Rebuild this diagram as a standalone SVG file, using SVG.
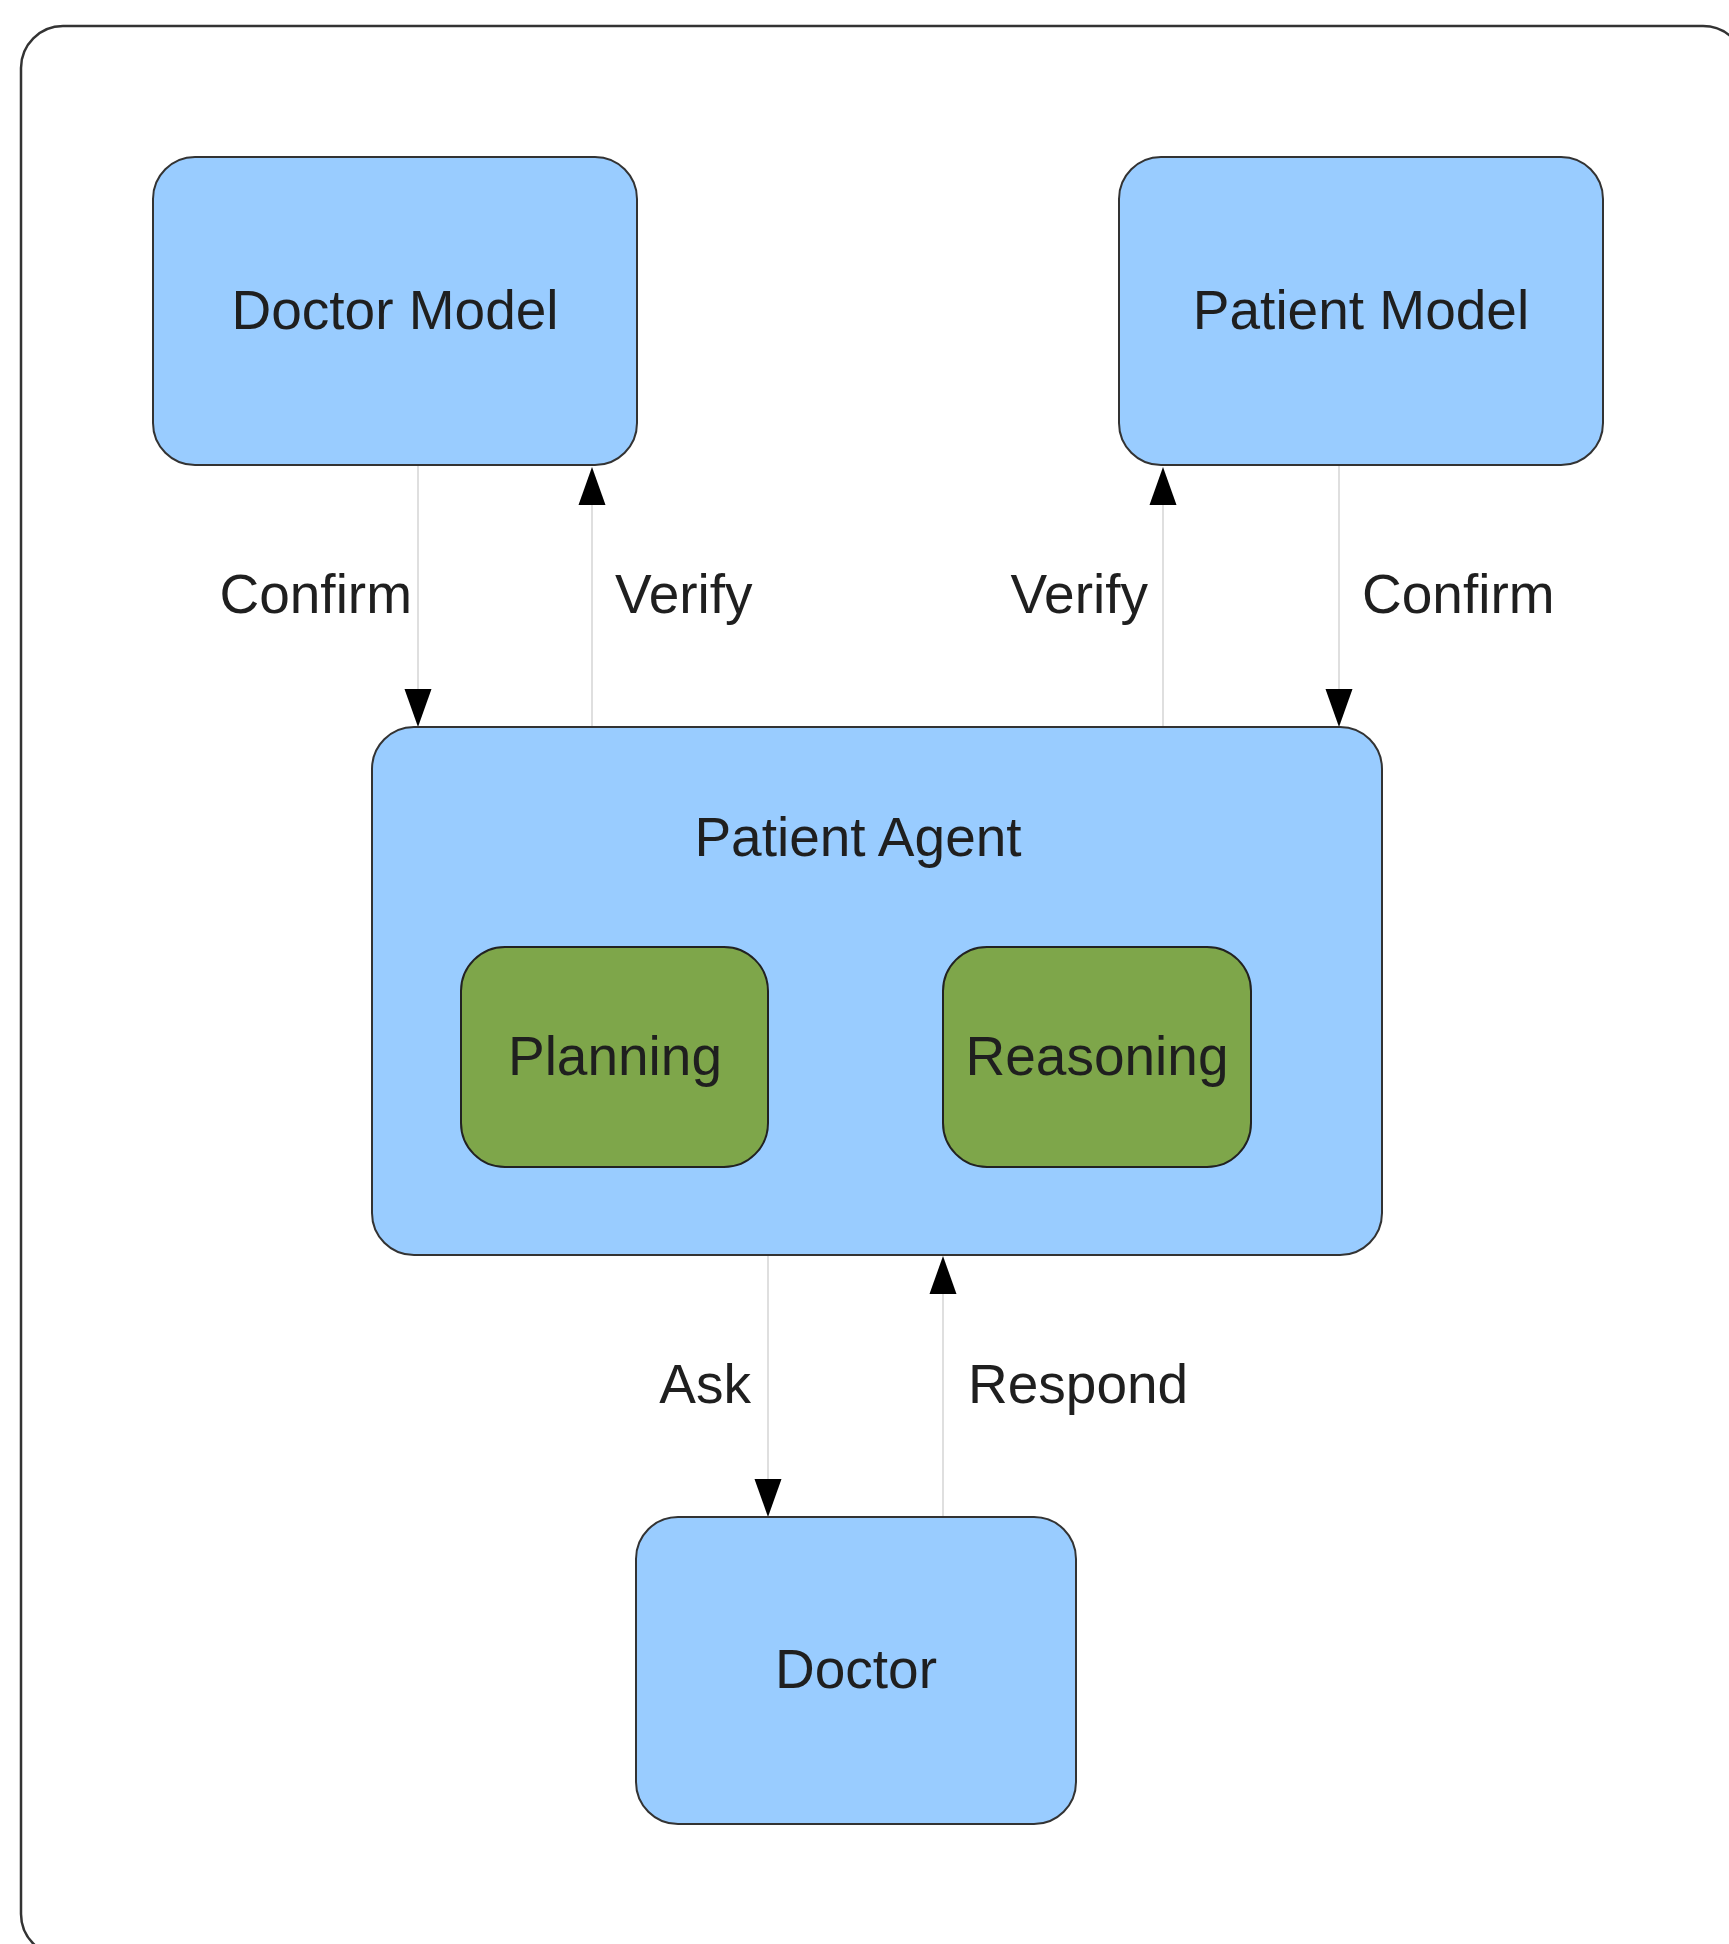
<svg xmlns="http://www.w3.org/2000/svg" width="1729" height="1944" viewBox="0 0 1729 1944">
<style>
.t{font-family:"Liberation Sans",Arial,sans-serif;font-size:55px;fill:#1f1f1f;text-anchor:middle}
.l{font-family:"Liberation Sans",Arial,sans-serif;font-size:55px;fill:#1f1f1f}
.blue{fill:#99ccff;stroke:#333;stroke-width:2}
.green{fill:#7ea64a;stroke:#222;stroke-width:2}
.c{stroke:#d4d4d4;stroke-width:1.5;fill:none}
.ah{fill:#000}
</style>
<rect x="0" y="0" width="1729" height="1944" fill="#fff"/>
<rect id="frame" x="21" y="26" width="1724" height="1930" rx="42" fill="none" stroke="#333" stroke-width="2.5"/>
<g id="connectors">
<line class="c" x1="418" y1="465" x2="418" y2="690"/>
<polygon class="ah" points="404.5,689 431.5,689 418,727"/>
<line class="c" x1="592" y1="505" x2="592" y2="727"/>
<polygon class="ah" points="578.5,505 605.5,505 592,467"/>
<line class="c" x1="1163" y1="505" x2="1163" y2="727"/>
<polygon class="ah" points="1149.5,505 1176.5,505 1163,467"/>
<line class="c" x1="1339" y1="465" x2="1339" y2="690"/>
<polygon class="ah" points="1325.5,689 1352.5,689 1339,727"/>
<line class="c" x1="768" y1="1255" x2="768" y2="1480"/>
<polygon class="ah" points="754.5,1479 781.5,1479 768,1517"/>
<line class="c" x1="943" y1="1294" x2="943" y2="1517"/>
<polygon class="ah" points="929.5,1294 956.5,1294 943,1256"/>
<text class="l" x="412" y="613" text-anchor="end">Confirm</text>
<text class="l" x="615" y="613">Verify</text>
<text class="l" x="1148" y="613" text-anchor="end">Verify</text>
<text class="l" x="1362" y="613">Confirm</text>
<text class="l" x="751" y="1403" text-anchor="end">Ask</text>
<text class="l" x="968" y="1403">Respond</text>
</g>
<g id="doctor-model">
<rect class="blue" x="153" y="157" width="484" height="308" rx="42"/>
<text class="t" x="395" y="329">Doctor Model</text>
</g>
<g id="patient-model">
<rect class="blue" x="1119" y="157" width="484" height="308" rx="42"/>
<text class="t" x="1361" y="329">Patient Model</text>
</g>
<g id="patient-agent">
<rect class="blue" x="372" y="727" width="1010" height="528" rx="42"/>
<text class="t" x="858" y="856">Patient Agent</text>
</g>
<g id="planning">
<rect class="green" x="461" y="947" width="307" height="220" rx="44"/>
<text class="t" x="615" y="1075">Planning</text>
</g>
<g id="reasoning">
<rect class="green" x="943" y="947" width="308" height="220" rx="44"/>
<text class="t" x="1097" y="1075">Reasoning</text>
</g>
<g id="doctor">
<rect class="blue" x="636" y="1517" width="440" height="307" rx="42"/>
<text class="t" x="856" y="1688">Doctor</text>
</g>
</svg>
